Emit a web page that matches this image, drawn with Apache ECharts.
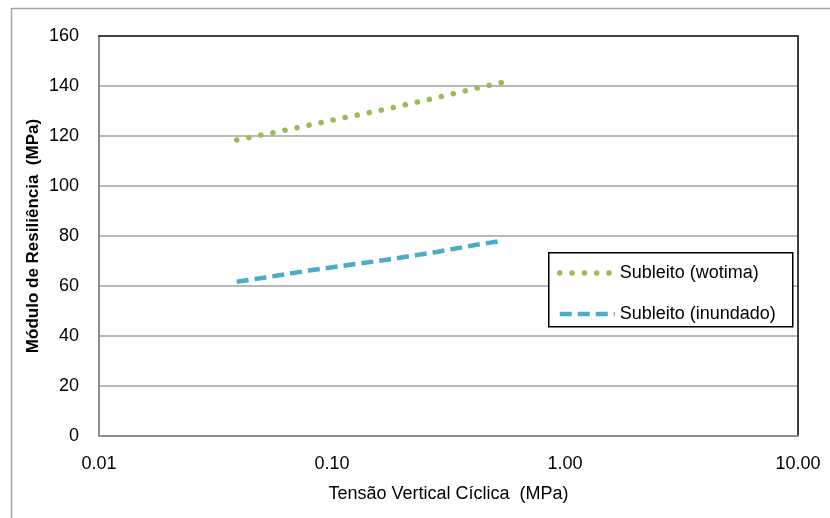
<!DOCTYPE html>
<html>
<head>
<meta charset="utf-8">
<script src="https://cdn.jsdelivr.net/npm/echarts@6/dist/echarts.min.js"></script>
<style>
    html, body { margin: 0; padding: 0; background: #fff; }
    #chart { width: 830px; height: 518px; }
</style>
</head>
<body>
<div id="chart"></div>
<script>
// values (x = MPa, y = MPa)
let seriesNames = ["Subleito (wotima)", "Subleito (inundado)"];
let wotimaX = [0.039, 0.063, 0.10, 0.164, 0.263, 0.425, 0.54];
let wotimaY = [118.4, 122.3, 126.3, 130.4, 134.7, 139.3, 141.5];
let inundadoX = [0.039, 0.051, 0.081, 0.172, 0.281, 0.418, 0.54];
let inundadoY = [61.7, 63.3, 66.3, 70.5, 73.6, 76.5, 78.1];
let xTicks = [0.01, 0.1, 1, 10];
let yMin = 0, yMax = 160, yStep = 20;

let font = "'Liberation Sans', Arial, sans-serif";
let green = "#9bbb59";
let blue = "#4bacc6";
let dotStyle = {color: green, width: 5.5, type: [0.1, 12.2], cap: "round"};
let dashStyle = {color: blue, width: 4.5, type: [12, 6]};

function pairs(xs, ys) {
    return xs.map((x, i) => [x, ys[i]]);
}

let chart = echarts.init(document.getElementById("chart"), null, {renderer: "canvas"});
let option = {
    backgroundColor: "#fff",
    animation: false,
    textStyle: {fontFamily: font},
    grid: {left: 99, right: 32, top: 36, bottom: 82},
    graphic: [
        {
            // outer chart frame (cropped on right / bottom)
            type: "rect",
            left: 9, top: 6, z: -1,
            shape: {width: 830, height: 530},
            style: {fill: null, stroke: "#a6a6a6", lineWidth: 1.5}
        },
        {
            // legend frame
            type: "rect",
            left: 548, top: 252, z: 5,
            shape: {width: 244, height: 74},
            style: {fill: "#fff", stroke: "#000", lineWidth: 1.5}
        }
    ],
    legend: {
        orient: "vertical",
        left: 557,
        top: 264,
        padding: 0,
        z: 6,
        itemWidth: 55,
        itemHeight: 14,
        itemGap: 23,
        itemTextGap: 5,
        itemStyle: {color: "rgba(0,0,0,0)", borderWidth: 0},
        data: [
            {name: seriesNames[0], lineStyle: dotStyle},
            {name: seriesNames[1], lineStyle: dashStyle}
        ],
        textStyle: {fontFamily: font, fontSize: 18, color: "#000"}
    },
    xAxis: [
        {
            type: "log",
            logBase: 10,
            min: xTicks[0],
            max: xTicks[xTicks.length - 1],
            name: "Tensão Vertical Cíclica  (MPa)",
            nameLocation: "middle",
            nameGap: 49,
            nameMoveOverlap: false,
            nameTextStyle: {fontFamily: font, fontSize: 18, color: "#000"},
            axisLine: {show: true, onZero: false, lineStyle: {color: "#8c8c8c", width: 2}},
            axisTick: {show: false},
            splitLine: {show: false},
            axisLabel: {
                margin: 19,
                fontSize: 18,
                color: "#000",
                formatter: function (v) {
                    return Number(v).toFixed(2);
                }
            }
        },
        {
            type: "log",
            logBase: 10,
            min: xTicks[0],
            max: xTicks[xTicks.length - 1],
            position: "top",
            axisLine: {show: true, onZero: false, lineStyle: {color: "#404040", width: 2}},
            axisTick: {show: false},
            axisLabel: {show: false},
            splitLine: {show: false}
        }
    ],
    yAxis: [
        {
            type: "value",
            min: yMin,
            max: yMax,
            interval: yStep,
            name: "Módulo de Resiliência  (MPa)",
            nameLocation: "middle",
            nameGap: 57,
            nameMoveOverlap: false,
            nameTextStyle: {fontFamily: font, fontSize: 17, fontWeight: "bold", color: "#000"},
            axisLine: {show: true, onZero: false, lineStyle: {color: "#8c8c8c", width: 2}},
            axisTick: {show: false},
            axisLabel: {margin: 20, fontSize: 18, color: "#000"},
            splitLine: {show: true, lineStyle: {color: "#a0a0a0", width: 1.5}}
        },
        {
            type: "value",
            min: yMin,
            max: yMax,
            interval: yStep,
            position: "right",
            axisLine: {show: true, onZero: false, lineStyle: {color: "#404040", width: 2}},
            axisTick: {show: false},
            axisLabel: {show: false},
            splitLine: {show: false}
        }
    ],
    series: [
        {
            name: seriesNames[0],
            type: "line",
            data: pairs(wotimaX, wotimaY),
            symbol: "none",
            z: 3,
            color: green,
            lineStyle: dotStyle
        },
        {
            name: seriesNames[1],
            type: "line",
            data: pairs(inundadoX, inundadoY),
            symbol: "none",
            z: 3,
            color: blue,
            lineStyle: dashStyle
        }
    ]
};
chart.setOption(option);
</script>
</body>
</html>
